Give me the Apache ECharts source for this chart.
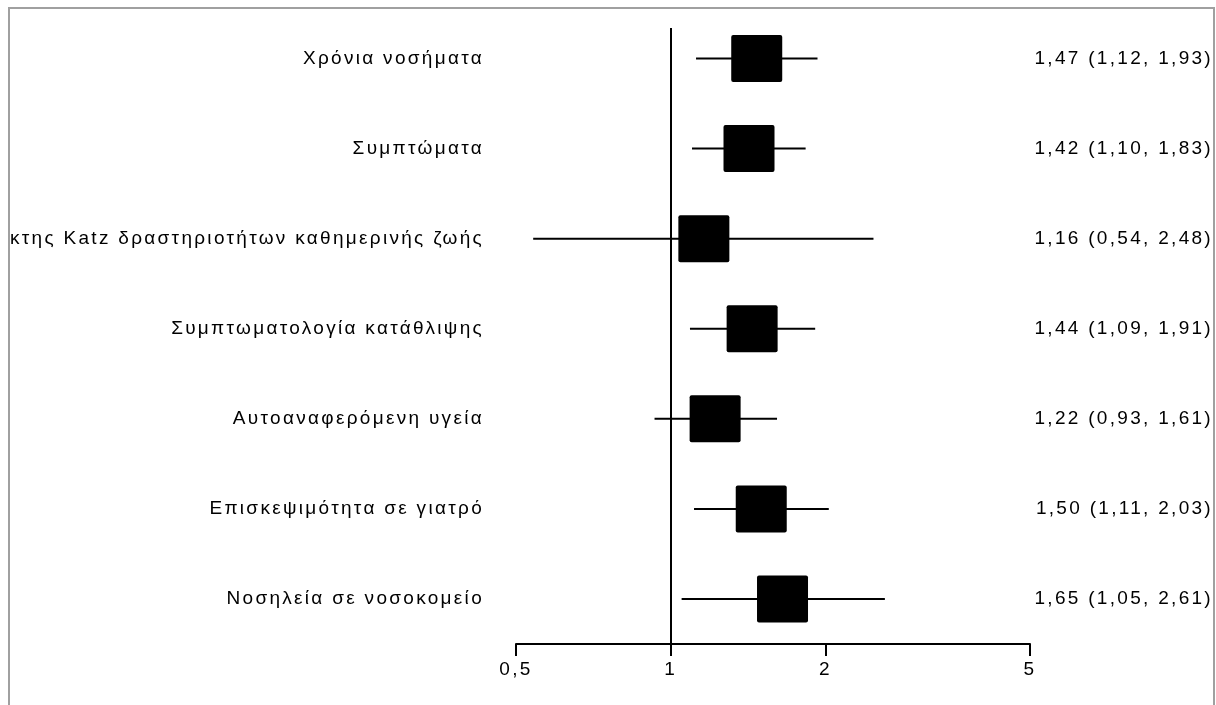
<!DOCTYPE html>
<html>
<head>
<meta charset="utf-8">
<script src="https://cdn.jsdelivr.net/npm/echarts@6/dist/echarts.min.js"></script>
<style>
html,body{margin:0;padding:0;background:#fff;width:1216px;height:705px;overflow:hidden;}
#frame{position:absolute;left:8px;top:7px;width:1203px;height:698px;border:2px solid #a0a0a0;border-bottom:none;overflow:hidden;}
#chart{position:absolute;left:-10px;top:-9px;width:1216px;height:705px;}
</style>
</head>
<body>
<div id="frame"><div id="chart"></div></div>
<script>
// ---- data ----
const categories = [
  'Χρόνια νοσήματα',
  'Συμπτώματα',
  'Δείκτης Katz δραστηριοτήτων καθημερινής ζωής',
  'Συμπτωματολογία κατάθλιψης',
  'Αυτοαναφερόμενη υγεία',
  'Επισκεψιμότητα σε γιατρό',
  'Νοσηλεία σε νοσοκομείο'
];
const estimates = [1.47, 1.42, 1.16, 1.44, 1.22, 1.50, 1.65];
const lower     = [1.12, 1.10, 0.54, 1.09, 0.93, 1.11, 1.05];
const upper     = [1.93, 1.83, 2.48, 1.91, 1.61, 2.03, 2.61];
const xTicks    = [0.5, 1, 2, 5];
const refValue  = 1;

// letter spacing for canvas text (reference text is widely spaced)
(function(){
  const ft = CanvasRenderingContext2D.prototype.fillText;
  CanvasRenderingContext2D.prototype.fillText = function(){
    try { this.letterSpacing = '2.3px'; } catch(e) {}
    return ft.apply(this, arguments);
  };
})();

const fmt = v => v.toFixed(2).replace('.', ',');
const ciLabels = estimates.map((e, i) => fmt(e) + ' (' + fmt(lower[i]) + ', ' + fmt(upper[i]) + ')');
const rowIdx = categories.map((c, i) => i);
const seriesData = estimates.map((e, i) => [e, lower[i], upper[i], i]);

const FONT = '"Liberation Sans", Arial, sans-serif';
const FS = 19;
const chart = echarts.init(document.getElementById('chart'), null, {renderer: 'canvas'});

chart.setOption({
  animation: false,
  backgroundColor: '#fff',
  grid: {left: 516, right: 185, top: 13.5, bottom: 61},
  xAxis: {
    type: 'log',
    logBase: 2,
    min: 0.5,
    max: 5,
    axisLine: {show: true, onZero: false, lineStyle: {color: '#000', width: 2}},
    axisTick: {show: true, customValues: xTicks, length: 12, lineStyle: {color: '#000', width: 2}},
    axisLabel: {
      show: true, customValues: xTicks, margin: 16,
      color: '#000', fontSize: FS, fontFamily: FONT,
      formatter: v => String(+(+v).toFixed(2)).replace('.', ',')
    },
    splitLine: {show: false}
  },
  yAxis: [
    {
      type: 'value', inverse: true, min: -0.5, max: 6.5, position: 'left',
      axisLine: {show: false}, axisTick: {show: false}, splitLine: {show: false},
      axisLabel: {
        customValues: rowIdx, margin: 32, color: '#000', fontSize: FS, fontFamily: FONT,
        formatter: v => categories[Math.round(v)]
      }
    },
    {
      type: 'value', inverse: true, min: -0.5, max: 6.5, position: 'right',
      axisLine: {show: false}, axisTick: {show: false}, splitLine: {show: false},
      axisLabel: {
        customValues: rowIdx, margin: 183, align: 'right', color: '#000', fontSize: FS, fontFamily: FONT,
        formatter: v => ciLabels[Math.round(v)]
      }
    }
  ],
  series: [{
    type: 'custom',
    xAxisIndex: 0,
    yAxisIndex: 0,
    data: seriesData,
    encode: {x: [0, 1, 2], y: 3},
    clip: false,
    renderItem: function (params, api) {
      const row = api.value(3);
      const pE = api.coord([api.value(0), row]);
      const pL = api.coord([api.value(1), row]);
      const pH = api.coord([api.value(2), row]);
      const w = 51, h = 47;
      return {
        type: 'group',
        children: [
          {type: 'line', shape: {x1: pL[0], y1: pL[1], x2: pH[0], y2: pH[1]},
           style: {stroke: '#000', lineWidth: 2}},
          {type: 'rect', shape: {x: pE[0] - w / 2, y: pE[1] - h / 2, width: w, height: h, r: 2},
           style: {fill: '#000'}}
        ]
      };
    },
    markLine: {
      silent: true,
      symbol: 'none',
      label: {show: false},
      lineStyle: {color: '#000', width: 2, type: 'solid'},
      data: [[{coord: [refValue, -0.34]}, {coord: [refValue, 6.5]}]]
    }
  }]
});
</script>
</body>
</html>
